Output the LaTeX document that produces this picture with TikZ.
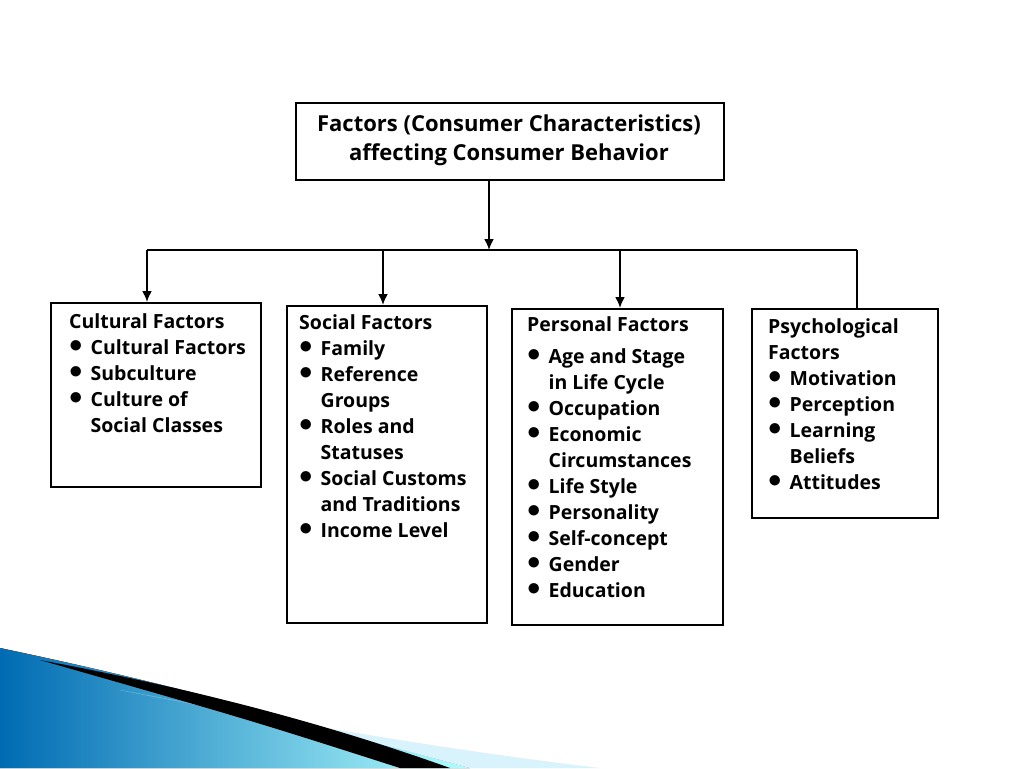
\documentclass[tikz,border=0pt]{standalone}
\usepackage{fontspec}
\setmainfont{Open Sans}
\usetikzlibrary{arrows.meta}
\begin{document}
\begin{tikzpicture}[x=1pt,y=-1pt,
  box/.style={draw,line width=2pt,inner sep=0pt},
  txt/.style={anchor=north west,align=left,font=\bfseries\fontsize{19.5}{26}\selectfont,inner sep=0pt},
  arr/.style={line width=2pt,-{Latex[length=11pt,width=10pt]}}]
\useasboundingbox (0,0) rectangle (1024,768);
% decoration
\fill[left color=cyan!60!blue!70!black,right color=cyan!30!white] (0,648) .. controls (200,690) and (330,730) .. (470,768) -- (0,768) -- cycle;
\fill[cyan!15] (120,690) .. controls (300,725) and (450,750) .. (600,768) -- (470,768) .. controls (330,730) .. cycle;
\fill[black] (40,660) .. controls (200,690) and (330,725) .. (450,768) -- (400,768) .. controls (250,720) .. cycle;
% boxes
\node[box,minimum width=428,minimum height=77,anchor=north west] (top) at (295,102) {};
\node[font=\bfseries\fontsize{22}{29}\selectfont,align=center] at (509,140) {Factors (Consumer Characteristics)\\affecting Consumer Behavior};
\node[box,minimum width=210,minimum height=184,anchor=north west] (c) at (50,302) {};
\node[box,minimum width=200,minimum height=317,anchor=north west] (s) at (286,305) {};
\node[box,minimum width=211,minimum height=316,anchor=north west] (p) at (511,308) {};
\node[box,minimum width=186,minimum height=209,anchor=north west] (y) at (751,308) {};
\coordinate (j) at (489,250);
\draw[arr] (top.south -| j) -- (j);
\draw[line width=2pt] (147,250) -- (857,250);
\draw[arr] (147,250) -- (c.north -| 147,0);
\draw[arr] (383,250) -- (s.north -| 383,0);
\draw[arr] (620,250) -- (p.north -| 620,0);
\draw[line width=2pt] (857,250) -- (y.north -| 857,0);
\def\b{\makebox[1.1em][l]{\raisebox{0.1em}{\scalebox{1.3}{$\bullet$}}}}
\def\i{\hspace*{1.1em}}
\node[txt] at (69,313) {Cultural Factors\\\b Cultural Factors\\\b Subculture\\\b Culture of\\\i Social Classes};
\node[txt] at (299,314) {Social Factors\\\b Family\\\b Reference\\\i Groups\\\b Roles and\\\i Statuses\\\b Social Customs\\\i and Traditions\\\b Income Level};
\node[txt] at (527,316) {Personal Factors\\[6pt]\b Age and Stage\\\i in Life Cycle\\\b Occupation\\\b Economic\\\i Circumstances\\\b Life Style\\\b Personality\\\b Self-concept\\\b Gender\\\b Education};
\node[txt] at (768,318) {Psychological\\Factors\\\b Motivation\\\b Perception\\\b Learning\\\i Beliefs\\\b Attitudes};
\end{tikzpicture}
\end{document}
